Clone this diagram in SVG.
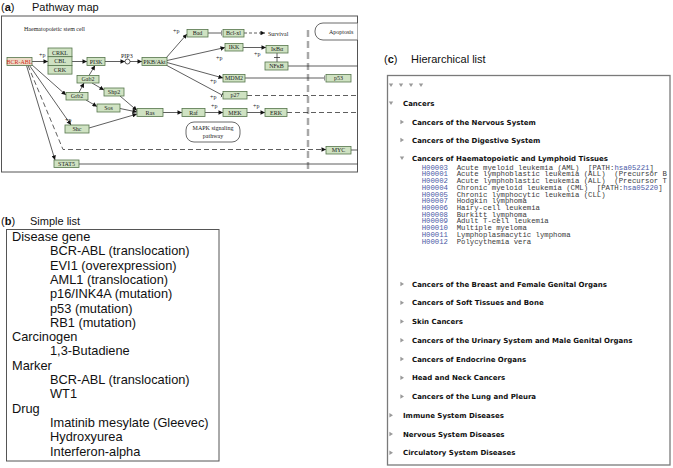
<svg xmlns="http://www.w3.org/2000/svg" width="673" height="468" viewBox="0 0 673 468">
<defs>
<style>
.ttl{font-family:"Liberation Sans",Arial,sans-serif;font-size:11px;fill:#111}
.ttl .b{font-weight:bold}
.frame{fill:none;stroke:#555;stroke-width:1}
.nd rect{fill:#cfe2c2;stroke:#55754b;stroke-width:0.8}
.nd text{font-family:"Liberation Serif","Times New Roman",serif;font-size:6px;text-anchor:middle;fill:#222}
.nd.dis rect{fill:#ecdcc8}
.nd.dis text{fill:#d02a1a}
.ln{stroke:#2a2a2a;stroke-width:0.75;fill:none}
.da{stroke-dasharray:5 3}
.sm{font-family:"Liberation Serif","Times New Roman",serif;font-size:6px;fill:#222}
.sl{font-family:"Liberation Sans",Arial,sans-serif;font-size:12.8px;fill:#111}
.hb{font-family:"DejaVu Sans",Verdana,sans-serif;font-size:7px;font-weight:bold;fill:#111}
.mo{font-family:"Liberation Mono","Courier New",monospace;font-size:7.3px;fill:#3a3a3a;white-space:pre}
.id{fill:#4b5aa6}
.tri{fill:#9a9a9a}
</style>
<marker id="ar" viewBox="0 0 10 10" refX="10" refY="5" markerWidth="5" markerHeight="4.5" orient="auto" markerUnits="userSpaceOnUse"><path d="M0,0 L10,5 L0,10 z" fill="#111"/></marker>
<marker id="inh" viewBox="0 0 2 10" refX="1" refY="5" markerWidth="1" markerHeight="7" orient="auto" markerUnits="userSpaceOnUse"><rect x="0" y="0" width="2" height="10" fill="#222"/></marker>
<clipPath id="clipA"><rect x="1.5" y="16" width="356" height="156"/></clipPath>
<clipPath id="clipC"><rect x="387" y="75" width="283" height="390"/></clipPath>
<path id="td" d="M-2.2,-1.6 L2.2,-1.6 L0,2 z"/>
<path id="tr" d="M-1.6,-2.2 L-1.6,2.2 L2,0 z"/>
</defs>

<!-- Panel a -->
<text class="ttl" x="1" y="11">(<tspan class="b">a</tspan>)</text>
<text class="ttl" x="32" y="11">Pathway map</text>
<g id="panel-a">
<rect class="frame" x="1.5" y="16" width="356" height="156"/>
<text class="sm" x="24" y="31">Haematopoietic stem cell</text>
<g clip-path="url(#clipA)">
<path d="M308,30 V172" stroke="#a8a8a8" stroke-width="2.5" stroke-dasharray="7 4" fill="none"/>
<g id="apoptosis"><rect x="315" y="23" width="60" height="17" rx="8" fill="#fff" stroke="#444" stroke-width="0.8"/><text class="sm" x="329" y="34">Apoptosis</text></g>
</g>
<g id="mapk"><rect x="186" y="122" width="54" height="20" rx="8" fill="#fff" stroke="#444" stroke-width="0.8"/><text class="sm" x="213" y="130" text-anchor="middle">MAPK signaling</text><text class="sm" x="213" y="138" text-anchor="middle">pathway</text></g>
</g>

<g id="connectors" clip-path="url(#clipA)">
<path class="ln" d="M32,61.5 H48" marker-end="url(#ar)"/>
<path class="ln" d="M72,61.5 H87" marker-end="url(#ar)"/>
<path class="ln" d="M105,61.5 H125" marker-end="url(#ar)"/>
<circle cx="127.5" cy="61.5" r="2.5" fill="#fff" stroke="#222" stroke-width="0.75"/>
<path class="ln" d="M130,61.5 H142" marker-end="url(#ar)"/>
<path class="ln" d="M79,92.5 L84,83" marker-end="url(#ar)"/>
<path class="ln" d="M89,75.5 L95,65.5" marker-end="url(#ar)"/>
<path class="ln" d="M92,83 L104,90" marker-end="url(#ar)"/>
<path class="ln" d="M86,100 L97,106.5" marker-end="url(#ar)"/>
<path class="ln" d="M120,96 L137,110.5" marker-end="url(#ar)"/>
<path class="ln" d="M120,108.5 L137,112" marker-end="url(#ar)"/>
<path class="ln" d="M89,128 L137,114" marker-end="url(#ar)"/>
<path class="ln" d="M163,112.5 H182" marker-end="url(#ar)"/>
<path class="ln" d="M205,112.5 H223" marker-end="url(#ar)"/>
<path class="ln" d="M247,112.5 H265" marker-end="url(#ar)"/>
<path class="ln da" d="M287,112.5 H358"/>
<path class="ln" d="M166,58 L187,34" marker-end="url(#ar)"/>
<path class="ln" d="M167,60.5 L225,47.5" marker-end="url(#ar)"/>
<path class="ln" d="M167,62.5 L223,78" marker-end="url(#ar)"/>
<path class="ln" d="M166,65 L222,95" marker-end="url(#inh)"/>
<path class="ln" d="M208,33 H221" marker-end="url(#inh)"/>
<path class="ln" d="M244,33 H265" stroke-dasharray="3 2" marker-end="url(#ar)"/>
<path class="ln" d="M243,47.5 H266" marker-end="url(#ar)"/>
<path class="ln" d="M277,53 V62 M274,57.5 H280"/>
<path class="ln" d="M288,66 H358"/>
<path class="ln" d="M245,78 H324" marker-end="url(#inh)"/>
<path class="ln da" d="M247,95.5 H358"/>
<path class="ln" d="M31,64 L66,95" marker-end="url(#ar)"/>
<path class="ln" d="M29.5,65.5 L71,125" marker-end="url(#ar)"/>
<path class="ln da" d="M28,65.5 L63,149.5 H326" marker-end="url(#ar)"/>
<path class="ln" d="M26.5,65.5 L55,160" marker-end="url(#ar)"/>
<path class="ln" d="M79,164 H358"/>
<path class="ln" d="M351,150 H358"/>
</g>

<g id="plabels">
<text class="sm" x="39" y="57">+p</text>
<text class="sm" x="121" y="57.5">PIP3</text>
<text class="sm" x="173" y="33">+p</text>
<text class="sm" x="216" y="60">+p</text>
<text class="sm" x="254" y="56">+p</text>
<text class="sm" x="210" y="83">+p</text>
<text class="sm" x="210" y="99">+p</text>
<text class="sm" x="211" y="108">+p</text>
<text class="sm" x="253" y="108">+p</text>
<text class="sm" x="65" y="122">+p</text>
<text class="sm" x="268" y="35.5">Survival</text>
</g>

<g id="n-bcrabl" class="nd dis"><rect x="7" y="57.5" width="25" height="8"/><text x="19.5" y="63.6">BCR-ABL</text></g>
<g id="n-crkl" class="nd"><rect x="48" y="48" width="24" height="8.7"/><text x="60" y="54.5">CRKL</text></g>
<g id="n-cbl" class="nd"><rect x="48" y="56.7" width="24" height="8.7"/><text x="60" y="63.2">CBL</text></g>
<g id="n-crk" class="nd"><rect x="48" y="65.4" width="24" height="8.7"/><text x="60" y="71.9">CRK</text></g>
<g id="n-pi3k" class="nd"><rect x="87" y="57.5" width="18" height="8"/><text x="96" y="63.6">PI3K</text></g>
<g id="n-pkb" class="nd"><rect x="142" y="57.5" width="25" height="8"/><text x="154.5" y="63.6">PKB/Akt</text></g>
<g id="n-gab2" class="nd"><rect x="77" y="75.5" width="22" height="7.5"/><text x="88" y="81.4">Gab2</text></g>
<g id="n-grb2" class="nd"><rect x="66" y="92.5" width="22" height="7.5"/><text x="77" y="98.4">Grb2</text></g>
<g id="n-shp2" class="nd"><rect x="104" y="88" width="20" height="8"/><text x="114" y="94.1">Shp2</text></g>
<g id="n-sos" class="nd"><rect x="97" y="104" width="23" height="8"/><text x="108.5" y="110.1">Sos</text></g>
<g id="n-ras" class="nd"><rect x="137" y="108.5" width="26" height="8"/><text x="150" y="114.6">Ras</text></g>
<g id="n-shc" class="nd"><rect x="65" y="125" width="24" height="8"/><text x="77" y="131.1">Shc</text></g>
<g id="n-stat5" class="nd"><rect x="54" y="160" width="25" height="7.5"/><text x="66.5" y="165.9">STAT5</text></g>
<g id="n-bad" class="nd"><rect x="187" y="29.5" width="21" height="7.5"/><text x="197.5" y="35.4">Bad</text></g>
<g id="n-bclxl" class="nd"><rect x="223" y="29.5" width="21" height="7.5"/><text x="233.5" y="35.4">Bcl-xl</text></g>
<g id="n-ikk" class="nd"><rect x="225" y="43.5" width="18" height="7.5"/><text x="234" y="49.4">IKK</text></g>
<g id="n-ikba" class="nd"><rect x="266" y="45.5" width="22" height="7.5"/><text x="277" y="51.4">IκBα</text></g>
<g id="n-nfkb" class="nd"><rect x="265" y="62" width="23" height="8"/><text x="276.5" y="68.1">NFκB</text></g>
<g id="n-mdm2" class="nd"><rect x="223" y="74.5" width="22" height="7.5"/><text x="234" y="80.4">MDM2</text></g>
<g id="n-p53" class="nd"><rect x="326" y="74.5" width="25" height="7.5"/><text x="338.5" y="80.4">p53</text></g>
<g id="n-p27" class="nd"><rect x="223" y="91.5" width="24" height="7.5"/><text x="235" y="97.4">p27</text></g>
<g id="n-raf" class="nd"><rect x="182" y="108.5" width="23" height="8"/><text x="193.5" y="114.6">Raf</text></g>
<g id="n-mek" class="nd"><rect x="223" y="108.5" width="24" height="8"/><text x="235" y="114.6">MEK</text></g>
<g id="n-erk" class="nd"><rect x="265" y="108.5" width="22" height="8"/><text x="276" y="114.6">ERK</text></g>
<g id="n-myc" class="nd"><rect x="326" y="146.5" width="25" height="7.5"/><text x="338.5" y="152.4">MYC</text></g>

<!-- Panel b -->
<text class="ttl" x="1" y="225">(<tspan class="b">b</tspan>)</text>
<text class="ttl" x="30" y="225">Simple list</text>
<g id="panel-b">
<rect class="frame" x="6.5" y="229.5" width="212.5" height="231.5"/>
<text class="sl" x="12" y="241">Disease gene</text>
<text class="sl" x="50" y="255.3">BCR-ABL (translocation)</text>
<text class="sl" x="50" y="269.6">EVI1 (overexpression)</text>
<text class="sl" x="50" y="283.9">AML1 (translocation)</text>
<text class="sl" x="50" y="298.2">p16/INK4A (mutation)</text>
<text class="sl" x="50" y="312.5">p53 (mutation)</text>
<text class="sl" x="50" y="326.8">RB1 (mutation)</text>
<text class="sl" x="12" y="341.1">Carcinogen</text>
<text class="sl" x="50" y="355.4">1,3-Butadiene</text>
<text class="sl" x="12" y="369.7">Marker</text>
<text class="sl" x="50" y="384">BCR-ABL (translocation)</text>
<text class="sl" x="50" y="398.3">WT1</text>
<text class="sl" x="12" y="412.6">Drug</text>
<text class="sl" x="50" y="426.9">Imatinib mesylate (Gleevec)</text>
<text class="sl" x="50" y="441.2">Hydroxyurea</text>
<text class="sl" x="50" y="455.5">Interferon-alpha</text>
</g>

<!-- Panel c -->
<text class="ttl" x="384" y="63">(<tspan class="b">c</tspan>)</text>
<text class="ttl" x="411" y="63">Hierarchical list</text>
<g id="panel-c">
<rect x="387.5" y="75.5" width="282.5" height="389.5" fill="none" stroke="#7a7a7a" stroke-width="1.3"/>
<g class="tri">
<use href="#td" x="391" y="85"/><use href="#td" x="401" y="85"/><use href="#td" x="411" y="85"/><use href="#td" x="421" y="85"/>
<use href="#td" x="391" y="103"/>
<use href="#tr" x="402" y="122"/><use href="#tr" x="402" y="140"/>
<use href="#td" x="402" y="158"/>
<use href="#tr" x="402" y="284"/><use href="#tr" x="402" y="302.7"/><use href="#tr" x="402" y="321.5"/><use href="#tr" x="402" y="340.2"/><use href="#tr" x="402" y="359"/><use href="#tr" x="402" y="377.7"/><use href="#tr" x="402" y="396.5"/>
<use href="#tr" x="391" y="415.2"/><use href="#tr" x="391" y="434"/><use href="#tr" x="391" y="452.7"/>
</g>
<text class="hb" x="403" y="105.5">Cancers</text>
<text class="hb" x="412" y="124.5">Cancers of the Nervous System</text>
<text class="hb" x="412" y="142.5">Cancers of the Digestive System</text>
<text class="hb" x="412" y="160.5">Cancers of Haematopoietic and Lymphoid Tissues</text>
<g clip-path="url(#clipC)">
<text class="mo" x="421.7" y="169.6"><tspan class="id">H00003</tspan>  Acute myeloid leukemia (AML)  [PATH:<tspan class="id">hsa05221</tspan>]</text>
<text class="mo" x="421.7" y="176.3"><tspan class="id">H00001</tspan>  Acute lymphoblastic leukemia (ALL)  (Precursor B</text>
<text class="mo" x="421.7" y="183.1"><tspan class="id">H00002</tspan>  Acute lymphoblastic leukemia (ALL)  (Precursor T</text>
<text class="mo" x="421.7" y="189.8"><tspan class="id">H00004</tspan>  Chronic myeloid leukemia (CML)  [PATH:<tspan class="id">hsa05220</tspan>]</text>
<text class="mo" x="421.7" y="196.5"><tspan class="id">H00005</tspan>  Chronic lymphocytic leukemia (CLL)</text>
<text class="mo" x="421.7" y="203.3"><tspan class="id">H00007</tspan>  Hodgkin lymphoma</text>
<text class="mo" x="421.7" y="210"><tspan class="id">H00006</tspan>  Hairy-cell leukemia</text>
<text class="mo" x="421.7" y="216.7"><tspan class="id">H00008</tspan>  Burkitt lymphoma</text>
<text class="mo" x="421.7" y="223.4"><tspan class="id">H00009</tspan>  Adult T-cell leukemia</text>
<text class="mo" x="421.7" y="230.2"><tspan class="id">H00010</tspan>  Multiple myeloma</text>
<text class="mo" x="421.7" y="236.9"><tspan class="id">H00011</tspan>  Lymphoplasmacytic lymphoma</text>
<text class="mo" x="421.7" y="243.6"><tspan class="id">H00012</tspan>  Polycythemia vera</text>
</g>
<text class="hb" x="412" y="286.5">Cancers of the Breast and Female Genital Organs</text>
<text class="hb" x="412" y="305.2">Cancers of Soft Tissues and Bone</text>
<text class="hb" x="412" y="324">Skin Cancers</text>
<text class="hb" x="412" y="342.7">Cancers of the Urinary System and Male Genital Organs</text>
<text class="hb" x="412" y="361.5">Cancers of Endocrine Organs</text>
<text class="hb" x="412" y="380.2">Head and Neck Cancers</text>
<text class="hb" x="412" y="399">Cancers of the Lung and Pleura</text>
<text class="hb" x="403" y="417.7">Immune System Diseases</text>
<text class="hb" x="403" y="436.5">Nervous System Diseases</text>
<text class="hb" x="403" y="455.2">Circulatory System Diseases</text>
</g>
</svg>
